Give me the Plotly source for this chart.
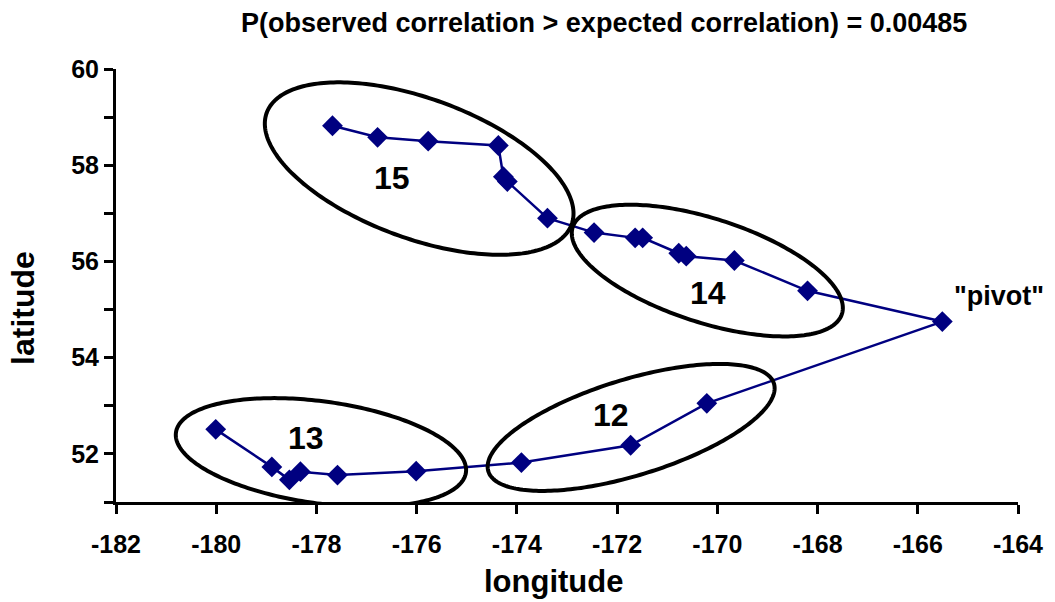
import numpy as np
import plotly.graph_objects as go

# ---- data ----
lon = [-177.68, -176.78, -175.77, -174.37, -174.27, -174.19, -173.39,
       -172.46, -171.64, -171.49, -170.77, -170.62, -169.66, -168.20,
       -165.51,
       -170.21, -171.73, -173.91,
       -176.01, -177.58, -178.32, -178.54, -178.89, -180.01]
lat = [58.82, 58.58, 58.50, 58.41, 57.76, 57.66, 56.90,
       56.60, 56.49, 56.49, 56.17, 56.11, 56.02, 55.39,
       54.75,
       53.05, 52.18, 51.82,
       51.64, 51.56, 51.63, 51.46, 51.73, 52.51]

x_ticks = [-182, -180, -178, -176, -174, -172, -170, -168, -166, -164]
x_ticktext = ["-182", "-180", "-178", "-176", "-174", "-172", "-170", "-168", "-166", "-164"]
y_ticks = [51, 52, 53, 54, 55, 56, 57, 58, 59, 60]
y_ticktext = ["", "52", "", "54", "", "56", "", "58", "", "60"]

# cluster labels
cluster_names = ["15", "14", "12", "13"]
cluster_lon = [-176.50, -170.19, -172.13, -178.20]
cluster_lat = [57.73, 55.34, 52.81, 52.32]

# ellipses around clusters: centre (lon, lat), semi-axes (px), tilt (deg, clockwise)
ell_lon = [-175.95, -170.20, -171.72, -177.91]
ell_lat = [57.93, 55.81, 52.55, 52.03]
ell_a = [163, 142, 150, 147]
ell_b = [70, 52, 48, 51]
ell_ang = [20.0, 17.8, -17.0, 7.8]

pivot_text = '"pivot"'
pivot_lon = -165.31
pivot_lat = 55.28

title_text = "P(observed correlation > expected correlation) = 0.00485"

# ---- layout geometry ----
W, H = 1055, 602
ML, MR, MT, MB = 116, 33, 69, 100
XR = [-182, -164]
YR = [51, 60]
pw = W - ML - MR
ph = H - MT - MB
ppx = pw / (XR[1] - XR[0])
ppy = ph / (YR[1] - YR[0])


def px_to_paper_y(py):
    return (H - MB - py) / ph


def px_to_paper_x(px):
    return (px - ML) / pw


FONT = "Liberation Sans, Arial, sans-serif"

fig = go.Figure()
fig.add_trace(go.Scatter(
    x=lon, y=lat, mode="lines+markers",
    line=dict(color="#000080", width=2.5),
    marker=dict(symbol="diamond", size=16, color="#000080"),
    showlegend=False, cliponaxis=False,
))

shapes = []
t = np.linspace(0, 2 * np.pi, 240)
for cx, cy, a, b, ang in zip(ell_lon, ell_lat, ell_a, ell_b, ell_ang):
    th = np.radians(ang)
    dx = a * np.cos(t) * np.cos(th) - b * np.sin(t) * np.sin(th)
    dy = a * np.cos(t) * np.sin(th) + b * np.sin(t) * np.cos(th)
    xs = cx + dx / ppx
    ys = cy - dy / ppy
    path = "M " + " L ".join(f"{x:.4f},{y:.4f}" for x, y in zip(xs, ys)) + " Z"
    shapes.append(dict(type="path", xref="x", yref="y", path=path,
                       line=dict(color="black", width=4), layer="above"))

annotations = []
for name, x, y in zip(cluster_names, cluster_lon, cluster_lat):
    annotations.append(dict(x=x, y=y, xref="x", yref="y", text=name, showarrow=False,
                            font=dict(family=FONT, size=32, color="black", weight="bold")))
annotations.append(dict(x=pivot_lon, y=pivot_lat, xref="x", yref="y", text=pivot_text,
                        showarrow=False, xanchor="left",
                        font=dict(family=FONT, size=27, color="black", weight="bold")))
annotations.append(dict(x=px_to_paper_x(606), y=px_to_paper_y(23), xref="paper", yref="paper",
                        text=title_text, showarrow=False, xanchor="center", yanchor="middle",
                        font=dict(family=FONT, size=27, color="black", weight="bold")))
annotations.append(dict(x=px_to_paper_x(555), y=px_to_paper_y(600), xref="paper", yref="paper",
                        text="longitude", showarrow=False, xanchor="center", yanchor="bottom",
                        borderpad=0,
                        font=dict(family=FONT, size=31, color="black", weight="bold")))
annotations.append(dict(x=px_to_paper_x(22), y=px_to_paper_y(307.5), xref="paper", yref="paper",
                        text="latitude", showarrow=False, xanchor="center", yanchor="middle",
                        textangle=-90,
                        font=dict(family=FONT, size=32, color="black", weight="bold")))

fig.update_layout(
    width=W, height=H,
    margin=dict(l=ML, r=MR, t=MT, b=MB),
    paper_bgcolor="white", plot_bgcolor="white",
    shapes=shapes, annotations=annotations,
    xaxis=dict(range=XR, tickvals=x_ticks, ticktext=x_ticktext, ticks="outside",
               ticklen=9, tickwidth=3, ticklabelstandoff=9,
               tickcolor="black", showline=True, linecolor="black", linewidth=3,
               showgrid=False, zeroline=False,
               tickfont=dict(family=FONT, size=25, color="black", weight="bold")),
    yaxis=dict(range=YR, tickvals=y_ticks, ticktext=y_ticktext, ticks="outside",
               ticklen=9, tickwidth=3, tickcolor="black", showline=True,
               linecolor="black", linewidth=3, showgrid=False, zeroline=False,
               tickfont=dict(family=FONT, size=25, color="black", weight="bold")),
)

fig.write_html("out.html")
